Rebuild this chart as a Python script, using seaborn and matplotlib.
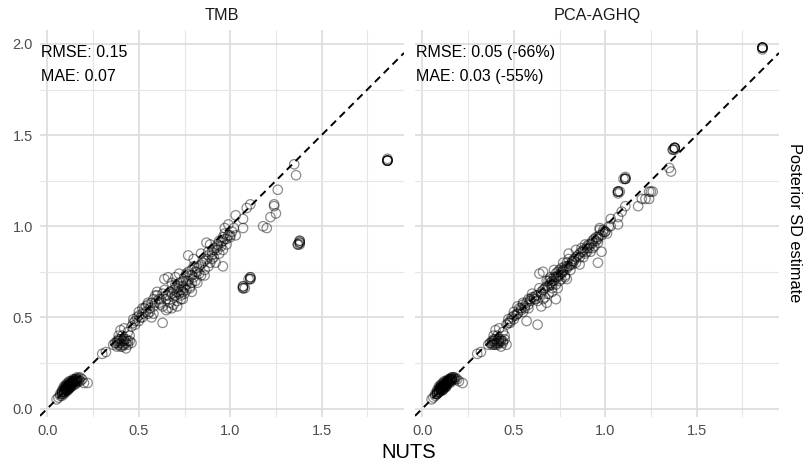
import numpy as np
import pandas as pd
import matplotlib
matplotlib.use("Agg")
import matplotlib.pyplot as plt
from matplotlib.ticker import MultipleLocator, FormatStrFormatter
import seaborn as sns

# Posterior SD per parameter: NUTS reference vs. two approximations
nuts_sd = [
    0.05, 0.06, 0.07, 0.07, 0.08, 0.08, 0.08, 0.09, 0.09, 0.09,
    0.09, 0.10, 0.10, 0.10, 0.10, 0.10, 0.11, 0.11, 0.11, 0.11,
    0.11, 0.12, 0.12, 0.12, 0.12, 0.12, 0.13, 0.13, 0.13, 0.13,
    0.14, 0.14, 0.14, 0.14, 0.15, 0.15, 0.15, 0.16, 0.16, 0.16,
    0.17, 0.17, 0.18, 0.19, 0.20, 0.22, 0.30, 0.32, 0.08, 0.10,
    0.36, 0.37, 0.38, 0.38, 0.39, 0.39, 0.40, 0.40, 0.41, 0.41,
    0.42, 0.42, 0.43, 0.43, 0.44, 0.44, 0.45, 0.46, 0.40, 0.42,
    0.46, 0.47, 0.47, 0.48, 0.49, 0.50, 0.50, 0.51, 0.52, 0.53,
    0.54, 0.55, 0.55, 0.56, 0.57, 0.58, 0.58, 0.59, 0.60, 0.63,
    0.61, 0.62, 0.63, 0.64, 0.65, 0.65, 0.66, 0.66, 0.67, 0.68,
    0.69, 0.69, 0.70, 0.70, 0.71, 0.71, 0.72, 0.72, 0.73, 0.73,
    0.74, 0.74, 0.75, 0.75, 0.76, 0.76, 0.77, 0.77, 0.78, 0.78,
    0.79, 0.79, 0.80, 0.80, 0.81, 0.82, 0.82, 0.83, 0.84, 0.85,
    0.86, 0.87, 0.87, 0.88, 0.89, 0.90, 0.91, 0.92, 0.93, 0.94,
    0.95, 0.96, 0.96, 0.97, 0.98, 0.98, 0.99, 1.00, 1.01, 1.03,
    1.03, 1.07, 1.07, 1.09, 1.11, 1.18, 1.20, 1.22, 1.24, 1.24,
    1.25, 1.26, 1.35, 1.36, 1.07, 1.07, 1.07, 1.11, 1.11, 1.11,
    1.37, 1.38, 1.38, 1.38, 1.86, 1.86, 1.86, 1.00, 0.99, 0.96,
    0.09, 0.10, 0.10, 0.11, 0.11, 0.12, 0.12, 0.13, 0.13, 0.14,
    0.14, 0.15, 0.15, 0.16, 0.16, 0.17, 0.12, 0.13, 0.11, 0.10,
    0.08, 0.09, 0.10, 0.11, 0.12, 0.13, 0.14, 0.15, 0.16, 0.18,
    0.38, 0.39, 0.40, 0.41, 0.42, 0.43, 0.44, 0.45, 0.39, 0.41,
    0.48, 0.50, 0.52, 0.54, 0.56, 0.57, 0.59, 0.61, 0.63, 0.65,
    0.67, 0.68, 0.70, 0.71, 0.73, 0.74, 0.76, 0.77, 0.79, 0.81,
    0.83, 0.84, 0.86, 0.88, 0.90, 0.91, 0.93, 0.95, 0.97, 1.02,
    1.07, 1.11, 1.38, 1.86, 1.86, 1.08, 1.10, 1.37, 1.38, 1.86,
    0.52, 0.55, 0.58, 0.60, 0.62, 0.64, 0.66, 0.68, 0.69, 0.70,
    0.71, 0.72, 0.73, 0.74, 0.75, 0.76, 0.78, 0.79, 0.80, 0.82,
    0.84, 0.86, 0.88, 0.89, 0.90, 0.92, 0.93, 0.94, 0.96, 0.97,
]
tmb_sd = [
    0.05, 0.06, 0.07, 0.08, 0.08, 0.09, 0.10, 0.08, 0.10, 0.11,
    0.12, 0.09, 0.10, 0.11, 0.12, 0.13, 0.10, 0.11, 0.12, 0.13,
    0.14, 0.11, 0.12, 0.13, 0.14, 0.15, 0.12, 0.13, 0.14, 0.15,
    0.13, 0.14, 0.15, 0.16, 0.13, 0.14, 0.16, 0.14, 0.15, 0.16,
    0.15, 0.16, 0.15, 0.16, 0.14, 0.14, 0.30, 0.31, 0.09, 0.10,
    0.35, 0.36, 0.34, 0.37, 0.35, 0.38, 0.34, 0.36, 0.37, 0.40,
    0.35, 0.38, 0.33, 0.36, 0.35, 0.42, 0.37, 0.36, 0.43, 0.44,
    0.45, 0.47, 0.49, 0.46, 0.50, 0.48, 0.53, 0.50, 0.52, 0.55,
    0.53, 0.52, 0.57, 0.55, 0.50, 0.56, 0.60, 0.58, 0.62, 0.47,
    0.58, 0.60, 0.56, 0.71, 0.60, 0.54, 0.62, 0.72, 0.58, 0.55,
    0.61, 0.65, 0.62, 0.66, 0.59, 0.64, 0.63, 0.67, 0.60, 0.69,
    0.64, 0.70, 0.66, 0.72, 0.68, 0.74, 0.84, 0.70, 0.66, 0.73,
    0.69, 0.76, 0.72, 0.78, 0.70, 0.69, 0.75, 0.78, 0.73, 0.80,
    0.76, 0.91, 0.82, 0.84, 0.80, 0.86, 0.83, 0.88, 0.87, 0.85,
    0.89, 0.78, 0.92, 0.99, 0.93, 0.90, 1.01, 0.95, 0.97, 1.06,
    0.95, 1.04, 0.99, 1.10, 1.12, 1.00, 0.99, 1.05, 1.12, 1.11,
    1.07, 1.20, 1.34, 1.28, 0.66, 0.67, 0.66, 0.71, 0.72, 0.72,
    0.90, 0.91, 0.92, 0.90, 1.36, 1.36, 1.36, 0.94, 0.95, 0.94,
    0.09, 0.11, 0.12, 0.11, 0.12, 0.12, 0.13, 0.13, 0.14, 0.14,
    0.15, 0.15, 0.16, 0.15, 0.17, 0.17, 0.11, 0.12, 0.10, 0.11,
    0.07, 0.09, 0.10, 0.12, 0.13, 0.14, 0.15, 0.15, 0.16, 0.17,
    0.36, 0.37, 0.38, 0.35, 0.37, 0.38, 0.37, 0.40, 0.40, 0.34,
    0.48, 0.51, 0.50, 0.56, 0.53, 0.58, 0.62, 0.60, 0.63, 0.62,
    0.64, 0.63, 0.68, 0.66, 0.65, 0.67, 0.70, 0.75, 0.73, 0.75,
    0.74, 0.79, 0.81, 0.86, 0.82, 0.87, 0.89, 0.91, 0.93, 0.99,
    0.67, 0.71, 0.91, 1.36, 1.37, 0.66, 0.71, 0.90, 0.92, 1.36,
    0.55, 0.58, 0.52, 0.64, 0.57, 0.65, 0.55, 0.69, 0.57, 0.72,
    0.56, 0.74, 0.62, 0.60, 0.63, 0.65, 0.67, 0.64, 0.82, 0.77,
    0.85, 0.73, 0.78, 0.90, 0.84, 0.80, 0.90, 0.92, 0.87, 0.96,
]
aghq_sd = [
    0.05, 0.06, 0.07, 0.08, 0.08, 0.09, 0.10, 0.09, 0.10, 0.11,
    0.12, 0.10, 0.10, 0.11, 0.12, 0.13, 0.10, 0.11, 0.12, 0.13,
    0.14, 0.12, 0.12, 0.13, 0.14, 0.15, 0.12, 0.13, 0.14, 0.15,
    0.14, 0.15, 0.15, 0.16, 0.14, 0.15, 0.16, 0.15, 0.16, 0.17,
    0.16, 0.17, 0.16, 0.16, 0.15, 0.14, 0.30, 0.31, 0.08, 0.11,
    0.35, 0.36, 0.35, 0.37, 0.35, 0.38, 0.35, 0.36, 0.37, 0.40,
    0.36, 0.38, 0.34, 0.37, 0.36, 0.42, 0.38, 0.35, 0.43, 0.44,
    0.46, 0.47, 0.49, 0.47, 0.50, 0.49, 0.53, 0.51, 0.52, 0.55,
    0.54, 0.53, 0.57, 0.56, 0.48, 0.57, 0.60, 0.59, 0.61, 0.46,
    0.60, 0.62, 0.59, 0.74, 0.63, 0.56, 0.65, 0.75, 0.61, 0.58,
    0.67, 0.70, 0.68, 0.71, 0.66, 0.70, 0.70, 0.72, 0.60, 0.74,
    0.72, 0.75, 0.73, 0.76, 0.74, 0.77, 0.80, 0.75, 0.73, 0.78,
    0.77, 0.80, 0.78, 0.82, 0.76, 0.79, 0.80, 0.82, 0.80, 0.84,
    0.83, 0.88, 0.86, 0.86, 0.85, 0.88, 0.88, 0.90, 0.88, 0.89,
    0.92, 0.80, 0.93, 0.99, 0.95, 0.86, 0.97, 0.97, 0.96, 1.04,
    1.00, 1.05, 1.01, 1.08, 1.11, 1.11, 1.15, 1.15, 1.15, 1.19,
    1.19, 1.19, 1.32, 1.30, 1.19, 1.19, 1.18, 1.26, 1.26, 1.27,
    1.42, 1.43, 1.42, 1.43, 1.98, 1.98, 1.98, 0.97, 0.98, 0.94,
    0.09, 0.11, 0.12, 0.11, 0.12, 0.12, 0.13, 0.13, 0.14, 0.14,
    0.15, 0.15, 0.16, 0.16, 0.17, 0.17, 0.11, 0.12, 0.10, 0.11,
    0.08, 0.09, 0.10, 0.12, 0.13, 0.14, 0.15, 0.16, 0.16, 0.17,
    0.36, 0.37, 0.38, 0.36, 0.37, 0.38, 0.37, 0.40, 0.40, 0.35,
    0.48, 0.51, 0.52, 0.55, 0.55, 0.58, 0.60, 0.61, 0.62, 0.64,
    0.66, 0.67, 0.69, 0.68, 0.72, 0.73, 0.75, 0.76, 0.78, 0.79,
    0.81, 0.83, 0.85, 0.87, 0.89, 0.90, 0.92, 0.94, 0.95, 1.00,
    1.19, 1.26, 1.43, 1.98, 1.98, 1.19, 1.26, 1.42, 1.43, 1.97,
    0.56, 0.58, 0.55, 0.63, 0.60, 0.66, 0.60, 0.70, 0.63, 0.72,
    0.64, 0.76, 0.68, 0.66, 0.70, 0.71, 0.72, 0.71, 0.85, 0.81,
    0.87, 0.79, 0.83, 0.90, 0.86, 0.86, 0.91, 0.93, 0.91, 0.98,
]

methods = ["TMB", "PCA-AGHQ"]
rmse_labels = ["RMSE: 0.15", "RMSE: 0.05 (-66%)"]
mae_labels = ["MAE: 0.07", "MAE: 0.03 (-55%)"]

df = pd.DataFrame({
    "NUTS": nuts_sd * 2,
    "estimate": tmb_sd + aghq_sd,
    "method": ["TMB"] * len(tmb_sd) + ["PCA-AGHQ"] * len(aghq_sd),
})

sns.set_theme(style="white")
plt.rcParams["font.family"] = ["Liberation Sans", "DejaVu Sans"]

W, H = 804, 465
fig = plt.figure(figsize=(W / 100, H / 100), dpi=100)

# shared scales with 5% expansion on each side
def expand(lo, hi, f=0.05):
    r = hi - lo
    return lo - f * r, hi + f * r

xlim = expand(df["NUTS"].min(), df["NUTS"].max())
ylim = expand(df["estimate"].min(), df["estimate"].max())

panel_left = [40, 415]
panel_w = 364
top_px, bot_px = 30, 417

for i, m in enumerate(methods):
    ax = fig.add_axes([panel_left[i] / W, 1 - bot_px / H,
                       panel_w / W, (bot_px - top_px) / H])
    sub = df[df["method"] == m]
    ax.set_xlim(*xlim)
    ax.set_ylim(*ylim)

    ax.xaxis.set_major_locator(MultipleLocator(0.5))
    ax.xaxis.set_minor_locator(MultipleLocator(0.25))
    ax.yaxis.set_major_locator(MultipleLocator(0.5))
    ax.yaxis.set_minor_locator(MultipleLocator(0.25))
    ax.xaxis.set_major_formatter(FormatStrFormatter("%.1f"))
    ax.yaxis.set_major_formatter(FormatStrFormatter("%.1f"))
    ax.grid(which="major", color="#dedede", linewidth=1.3)
    ax.grid(which="minor", color="#e6e6e6", linewidth=0.8)
    ax.set_axisbelow(True)
    for s in ax.spines.values():
        s.set_visible(False)
    ax.tick_params(which="both", length=0, labelsize=10.5,
                   labelcolor="#4d4d4d", pad=5)
    if i == 1:
        ax.tick_params(axis="y", labelleft=False)

    sns.scatterplot(data=sub, x="NUTS", y="estimate", ax=ax,
                    facecolor="none", edgecolor="black", s=46,
                    linewidth=0.9, alpha=0.45, legend=False)
    ax.axline((0, 0), slope=1, color="black", linestyle=(0, (3.8, 2.6)),
              linewidth=1.4)

    ax.set_xlabel("")
    ax.set_ylabel("")
    ax.set_title(m, fontsize=11.7, color="#1a1a1a", pad=7)

    ax.text(0.003, 0.9406, rmse_labels[i], transform=ax.transAxes,
            ha="left", va="center", fontsize=11.5, color="black")
    ax.text(0.003, 0.8786, mae_labels[i], transform=ax.transAxes,
            ha="left", va="center", fontsize=11.5, color="black")

fig.text(409 / W, 1 - 452 / H, "NUTS", ha="center", va="center",
         fontsize=14.5, color="black")
fig.text(795 / W, 1 - 223 / H, "Posterior SD estimate", ha="center",
         va="center", rotation=-90, fontsize=11.8, color="black")

fig.savefig("out.png", dpi=100)
